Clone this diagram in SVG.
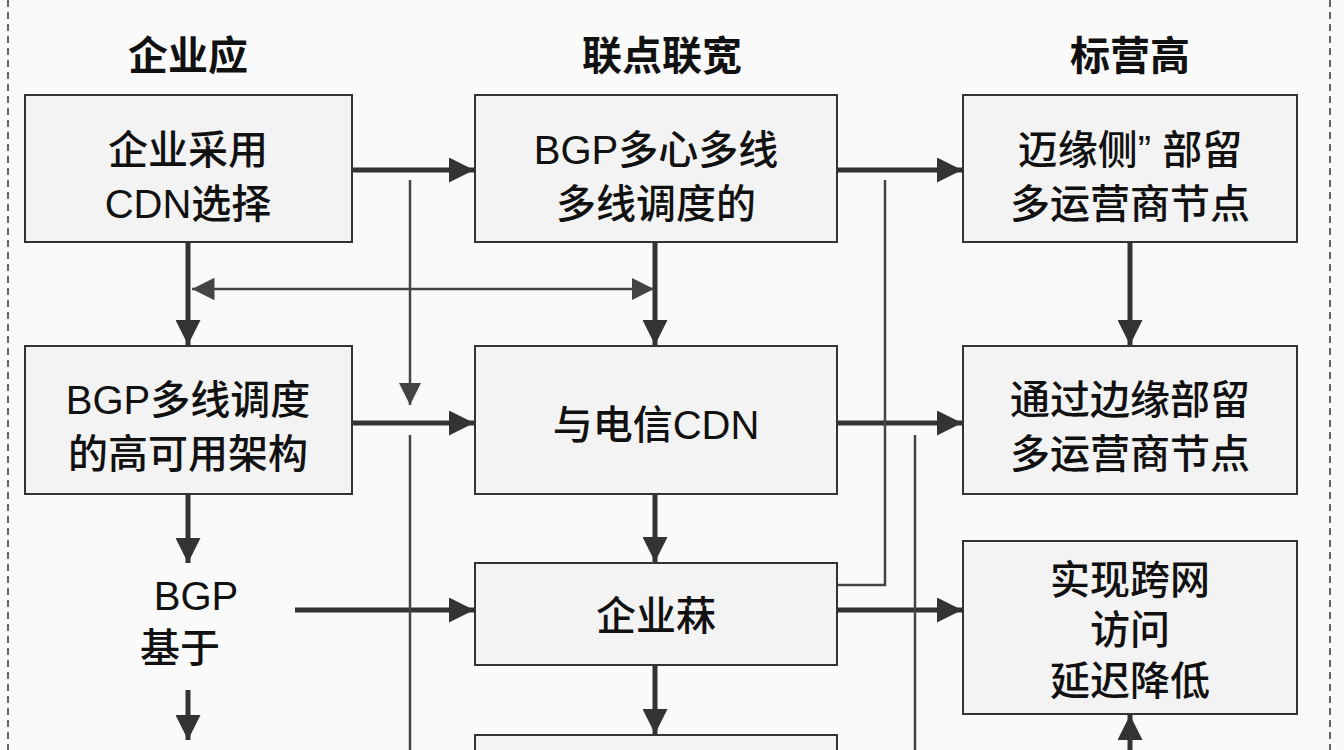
<svg xmlns="http://www.w3.org/2000/svg" width="1344" height="750" viewBox="0 0 1344 750">
<defs>
<style>
.box{fill:#f3f3f3;stroke:#333;stroke-width:2}
.t{font-family:"Liberation Sans","Noto Sans CJK SC",sans-serif;font-size:40px;font-weight:500;fill:#111;text-anchor:middle}
.h{font-family:"Liberation Sans","Noto Sans CJK SC",sans-serif;font-size:40px;font-weight:bold;fill:#111;text-anchor:middle}
.k{stroke:#333;stroke-width:5;fill:none}
.n{stroke:#444;stroke-width:2.5;fill:none}
</style>
<marker id="a" viewBox="0 0 10 10" refX="10" refY="5" markerWidth="5" markerHeight="5" markerUnits="strokeWidth" orient="auto"><path d="M0,0L10,5L0,10z" fill="#333"/></marker>
<marker id="b" viewBox="0 0 10 10" refX="10" refY="5" markerWidth="9" markerHeight="9" markerUnits="strokeWidth" orient="auto-start-reverse"><path d="M0,0L10,5L0,10z" fill="#444"/></marker>
</defs>
<rect width="1344" height="750" fill="#fafafa"/>
<line x1="8" y1="0" x2="8" y2="750" stroke="#333" stroke-width="1.5" stroke-dasharray="7,5"/>
<line x1="1330" y1="0" x2="1330" y2="750" stroke="#333" stroke-width="1.5" stroke-dasharray="7,5"/>
<g id="headers">
<text class="h" x="188" y="70">企业应</text>
<text class="h" x="662" y="70">联点联宽</text>
<text class="h" x="1130" y="70">标营高</text>
</g>
<g id="connectors">
<path class="k" d="M352,170H474" marker-end="url(#a)"/>
<path class="k" d="M838,170H962" marker-end="url(#a)"/>
<path class="k" d="M352,423H474" marker-end="url(#a)"/>
<path class="k" d="M838,423H962" marker-end="url(#a)"/>
<path class="k" d="M295,610H474" marker-end="url(#a)"/>
<path class="k" d="M838,610H962" marker-end="url(#a)"/>
<path class="k" d="M188,242V345" marker-end="url(#a)"/>
<path class="k" d="M655,242V345" marker-end="url(#a)"/>
<path class="k" d="M1130,242V345" marker-end="url(#a)"/>
<path class="k" d="M655,494V562" marker-end="url(#a)"/>
<path class="k" d="M655,665V734" marker-end="url(#a)"/>
<path class="k" d="M188,494V563" marker-end="url(#a)"/>
<path class="k" d="M188,690V740" marker-end="url(#a)"/>
<path class="k" d="M1130,750V715" marker-end="url(#a)"/>
<path class="n" d="M192,289H654" marker-start="url(#b)" marker-end="url(#b)"/>
<path class="n" d="M410,180V405" marker-end="url(#b)"/>
<path class="n" d="M410,435V750"/>
<path class="n" d="M885,180V585H838"/>
<path class="n" d="M915,435V750"/>
</g>
<g id="n1"><rect class="box" x="25" y="95" width="327" height="147"/><text class="t" x="188" y="164">企业采用</text><text class="t" x="188" y="218">CDN选择</text></g>
<g id="n2"><rect class="box" x="475" y="95" width="362" height="147"/><text class="t" x="656" y="164">BGP多心多线</text><text class="t" x="656" y="218">多线调度的</text></g>
<g id="n3"><rect class="box" x="963" y="95" width="334" height="147"/><text class="t" x="1130" y="164">迈缘侧” 部留</text><text class="t" x="1130" y="218">多运营商节点</text></g>
<g id="n4"><rect class="box" x="25" y="346" width="327" height="148"/><text class="t" x="188" y="414">BGP多线调度</text><text class="t" x="188" y="468">的高可用架构</text></g>
<g id="n5"><rect class="box" x="475" y="346" width="362" height="148"/><text class="t" x="656" y="439">与电信CDN</text></g>
<g id="n6"><rect class="box" x="963" y="346" width="334" height="148"/><text class="t" x="1130" y="414">通过边缘部留</text><text class="t" x="1130" y="468">多运营商节点</text></g>
<g id="n7"><text class="t" x="196" y="610">BGP</text><text class="t" x="180" y="662">基于</text></g>
<g id="n8"><rect class="box" x="475" y="563" width="362" height="102"/><text class="t" x="656" y="630">企业菻</text></g>
<g id="n9"><rect class="box" x="963" y="541" width="334" height="173"/><text class="t" x="1130" y="594">实现跨网</text><text class="t" x="1130" y="644">访问</text><text class="t" x="1130" y="695">延迟降低</text></g>
<g id="n10"><rect class="box" x="475" y="735" width="362" height="40"/></g>
</svg>
